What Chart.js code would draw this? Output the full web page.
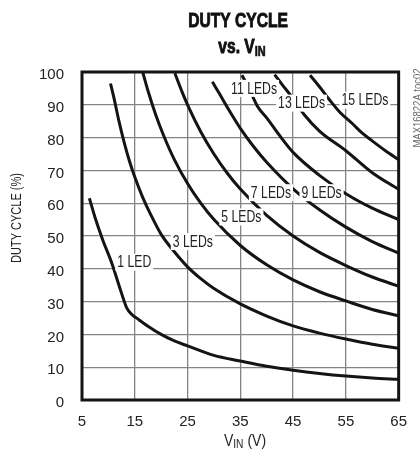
<!DOCTYPE html>
<html><head><meta charset="utf-8">
<script src="https://cdn.jsdelivr.net/npm/chart.js@4.4.1/dist/chart.umd.min.js"></script>
<style>html,body{margin:0;padding:0;background:#fff;}#wrap{position:relative;width:420px;height:459px;}</style>
</head><body><div id="wrap"><canvas id="c"></canvas></div>
<script>
// ---- data ----
const xTickValues = [5, 15, 25, 35, 45, 55, 65];
const yTickValues = [0, 10, 20, 30, 40, 50, 60, 70, 80, 90, 100];
const seriesNames = ['1 LED', '3 LEDs', '5 LEDs', '7 LEDs', '9 LEDs', '11 LEDs', '13 LEDs', '15 LEDs'];

const vin1  = [6.4, 7.5, 9, 10.7, 12.3, 13.5, 14.5, 15.5, 17.5, 20, 22.5, 25, 30, 35, 40, 45, 50, 55, 60, 65];
const duty1 = [61.5, 55.5, 48.5, 41.5, 33.5, 28, 26, 24.8, 22.5, 20, 18, 16.5, 13.6, 11.9, 10.3, 9.1, 8.1, 7.3, 6.7, 6.3];
const vin3  = [10.4, 11, 12, 13, 14, 15, 16.5, 18, 20, 22.5, 25, 27.5, 30, 35, 40, 45, 50, 55, 60, 65];
const duty3 = [96.5, 92.5, 85, 78.5, 72.8, 68, 61.8, 56.6, 50.5, 45.2, 40.6, 37, 34, 29.3, 25.6, 22.6, 20.4, 18.6, 17, 15.8];
const vin5  = [16.5, 17.5, 19, 20.5, 22.5, 25, 27.5, 30, 35, 40, 45, 50, 55, 60, 65];
const duty5 = [100, 94.3, 86.8, 80.5, 73.3, 66, 60, 55, 47.1, 41.2, 36.6, 33, 30.2, 27.6, 25.7];
const vin7  = [22.6, 24, 25, 27.5, 30, 32.5, 35, 40, 45, 50, 55, 60, 65];
const duty7 = [99.6, 93.8, 90, 81.8, 75, 69.2, 64.3, 56.3, 50, 45, 41, 37.5, 34.7];
const vin9  = [29.7, 31, 32.5, 35, 37.5, 40, 45, 50, 55, 60, 65];
const duty9 = [97, 93.5, 89.3, 82.8, 77.3, 72.5, 64.4, 58, 52.7, 48.3, 44.8];
const vin11  = [35.3, 36.5, 38.3, 40, 42.5, 45, 50, 55, 60, 65];
const duty11 = [99, 95.5, 89.4, 86, 80.5, 75.5, 68.5, 62.9, 58.5, 55];
const vin13  = [41.5, 43, 44.7, 47, 50, 55, 60, 65];
const duty13 = [99.2, 96, 92.5, 87.2, 82, 76, 69.3, 64.2];
const vin15  = [48.2, 50, 52, 54, 56.2, 58, 60, 62.5, 65];
const duty15 = [99, 95.5, 91.3, 87.5, 84.3, 81.5, 79, 76, 73.3];

// label anchors (data coordinates)
const labelX = [14.9, 26.0, 35.2, 40.8, 50.4, 37.6, 46.6, 58.6];
const labelY = [42.0, 48.3, 55.8, 63.2, 63.2, 95.0, 90.5, 91.4];

const vins = [vin1, vin3, vin5, vin7, vin9, vin11, vin13, vin15];
const duties = [duty1, duty3, duty5, duty7, duty9, duty11, duty13, duty15];

// ---- styles ----
const SANS = "'Liberation Sans',Arial,Helvetica,sans-serif";
const INK = '#141414';

const datasets = seriesNames.map((n, i) => ({
  label: n,
  data: vins[i].map((v, k) => ({ x: v, y: duties[i][k] })),
  showLine: true,
  borderColor: INK,
  backgroundColor: INK,
  borderWidth: 3,
  pointRadius: 0,
  cubicInterpolationMode: 'monotone',
  fill: false
}));

// draw condensed text (horizontal squeeze)
function cText(ctx, text, x, y, font, sx, align, stroke) {
  ctx.save();
  ctx.font = font;
  const w = ctx.measureText(text).width * sx;
  let left = x;
  if (align === 'center') left = x - w / 2;
  else if (align === 'right') left = x - w;
  ctx.translate(left, y);
  ctx.scale(sx, 1);
  ctx.textAlign = 'left';
  ctx.fillText(text, 0, 0);
  if (stroke) { ctx.lineWidth = stroke; ctx.strokeStyle = ctx.fillStyle; ctx.strokeText(text, 0, 0); }
  ctx.restore();
  return w;
}
function cWidth(ctx, text, font, sx) { ctx.save(); ctx.font = font; const w = ctx.measureText(text).width * sx; ctx.restore(); return w; }

const decorPlugin = {
  id: 'decor',
  afterDatasetsDraw(chart) {
    const { ctx, chartArea: a, scales } = chart;
    ctx.save();
    const lf = '17px ' + SANS, ls = 0.72;
    ctx.textBaseline = 'middle';
    seriesNames.forEach((t, i) => {
      const px = scales.x.getPixelForValue(labelX[i]);
      const py = scales.y.getPixelForValue(labelY[i]);
      const w = cWidth(ctx, t, lf, ls);
      ctx.fillStyle = '#fff';
      ctx.fillRect(px - w / 2 - 2, py - 8.5, w + 4, 17);
      ctx.fillStyle = '#222';
      cText(ctx, t, px, py + 0.5, lf, ls, 'center');
    });
    ctx.strokeStyle = INK;
    ctx.lineWidth = 3;
    ctx.strokeRect(a.left, a.top, a.right - a.left, a.bottom - a.top);
    ctx.restore();
  },
  afterDraw(chart) {
    const { ctx } = chart;
    ctx.save();
    ctx.fillStyle = '#111';
    ctx.textBaseline = 'alphabetic';
    // title
    const tf = 'bold 20px ' + SANS, ts = 0.78;
    cText(ctx, 'DUTY CYCLE', 238, 27, tf, ts, 'center', 0.9);
    const sf = 'bold 14px ' + SANS;
    const w1 = cWidth(ctx, 'vs. V', tf, ts), w2 = cWidth(ctx, 'IN', sf, ts);
    let sx = 242 - (w1 + w2) / 2;
    cText(ctx, 'vs. V', sx, 53, tf, ts, 'left', 0.9);
    cText(ctx, 'IN', sx + w1, 56, sf, ts, 'left', 0.7);
    // x axis title
    ctx.fillStyle = '#222';
    const g1 = '16.5px ' + SANS, g2 = '12px ' + SANS, gs = 0.85;
    const a1 = cWidth(ctx, 'V', g1, gs), a2 = cWidth(ctx, 'IN', g2, gs), a3 = cWidth(ctx, ' (V)', g1, gs);
    let tx = 245 - (a1 + a2 + a3) / 2;
    cText(ctx, 'V', tx, 446, g1, gs, 'left');
    cText(ctx, 'IN', tx + a1, 448, g2, gs, 'left');
    cText(ctx, ' (V)', tx + a1 + a2, 446, g1, gs, 'left');
    // y axis title
    ctx.save();
    ctx.translate(17, 218);
    ctx.rotate(-Math.PI / 2);
    ctx.textBaseline = 'middle';
    cText(ctx, 'DUTY CYCLE (%)', 0, 0, '14.5px ' + SANS, 0.76, 'center');
    ctx.restore();
    // side code
    ctx.save();
    ctx.translate(418, 108);
    ctx.rotate(-Math.PI / 2);
    ctx.textBaseline = 'middle';
    ctx.fillStyle = '#666';
    cText(ctx, 'MAX16822A toc02', 0, 0, '10px ' + SANS, 0.95, 'center');
    ctx.restore();
    ctx.restore();
  }
};

new Chart(document.getElementById('c'), {
  type: 'scatter',
  data: { datasets },
  options: {
    responsive: true,
    maintainAspectRatio: false,
    animation: false,
    events: [],
    layout: { padding: { top: 72, right: 10, left: 0, bottom: 0 } },
    plugins: { legend: { display: false }, tooltip: { enabled: false }, title: { display: false } },
    scales: {
      x: {
        type: 'linear', min: 5, max: 65,
        afterBuildTicks: s => { s.ticks = xTickValues.map(v => ({ value: v })); },
        afterFit: s => { s.height = 59; },
        grid: { color: '#848484', lineWidth: 1.3, drawTicks: false },
        border: { display: false },
        ticks: { padding: 13, color: '#222', font: { family: SANS, size: 15 }, maxRotation: 0 }
      },
      y: {
        type: 'linear', min: 0, max: 100,
        afterBuildTicks: s => { s.ticks = yTickValues.map(v => ({ value: v })); },
        afterFit: s => { s.width = 82; },
        grid: { color: '#848484', lineWidth: 1.3, drawTicks: false },
        border: { display: false },
        ticks: { padding: 18, labelOffset: 3, color: '#222', font: { family: SANS, size: 15 } }
      }
    }
  },
  plugins: [decorPlugin]
});
</script>
</body></html>
